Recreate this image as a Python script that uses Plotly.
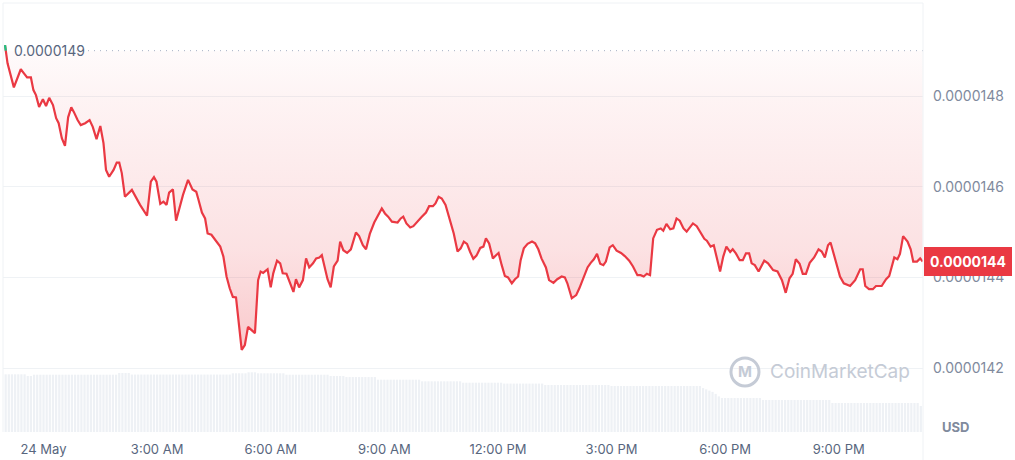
import pandas as pd
import plotly.graph_objects as go

# ---------------- data ----------------
open_price = 1.4900e-05
last_price_label = "0.0000144"

# minutes relative to 24 May 00:00
price_minutes = [
    -61, -57, -47, -36, -31, -26, -20, -16, -12, -7, -1, 4, 9, 15, 20, 24, 29, 34, 39, 44,
    48, 54, 59, 66, 73, 78, 84, 90, 95, 99, 104, 111, 116, 120, 124, 129, 140, 153, 164, 170,
    175, 179, 185, 190, 195, 199, 205, 210, 221, 229, 236, 242, 245, 251, 256, 260, 266, 273, 280, 285,
    290, 295, 300, 305, 309, 314, 319, 324, 335, 340, 344, 348, 355, 360, 364, 370, 375, 379, 385, 391,
    396, 400, 405, 411, 416, 421, 427, 432, 437, 441, 444, 450, 455, 460, 466, 470, 475, 481, 487, 495,
    500, 506, 511, 517, 524, 529, 536, 541, 546, 552, 561, 566, 570, 575, 581, 586, 592, 599, 606, 611,
    617, 621, 626, 631, 637, 645, 650, 656, 661, 666, 671, 676, 681, 686, 692, 697, 701, 706, 712, 717,
    721, 726, 731, 736, 742, 747, 752, 756, 761, 767, 774, 779, 784, 789, 796, 801, 808, 814, 821, 826,
    830, 837, 844, 849, 855, 862, 867, 872, 877, 882, 887, 891, 897, 902, 908, 915, 921, 928, 934, 941,
    946, 951, 956, 961, 966, 972, 978, 982, 987, 993, 998, 1003, 1008, 1014, 1019, 1029, 1035, 1041, 1047, 1051,
    1057, 1062, 1068, 1072, 1077, 1082, 1088, 1092, 1097, 1103, 1108, 1113, 1118, 1122, 1127, 1133, 1142, 1148, 1156, 1163,
    1170, 1176, 1182, 1187, 1192, 1198, 1203, 1208, 1214, 1221, 1228, 1233, 1238, 1243, 1247, 1252, 1257, 1262, 1268, 1278,
    1286, 1294, 1298, 1302, 1308, 1314, 1319, 1328, 1335, 1340, 1348, 1353, 1357, 1362, 1369, 1374, 1378, 1384, 1389, 1393,
]

price_usd = [
    1.4912e-05, 1.4872e-05, 1.4819e-05, 1.4859e-05, 1.4850e-05, 1.4841e-05, 1.4841e-05, 1.4813e-05, 1.4802e-05, 1.4776e-05,
    1.4793e-05, 1.4778e-05, 1.4796e-05, 1.4780e-05, 1.4751e-05, 1.4740e-05, 1.4707e-05, 1.4690e-05, 1.4753e-05, 1.4775e-05,
    1.4765e-05, 1.4747e-05, 1.4736e-05, 1.4740e-05, 1.4747e-05, 1.4732e-05, 1.4705e-05, 1.4734e-05, 1.4696e-05, 1.4637e-05,
    1.4622e-05, 1.4637e-05, 1.4653e-05, 1.4653e-05, 1.4630e-05, 1.4578e-05, 1.4593e-05, 1.4560e-05, 1.4536e-05, 1.4611e-05,
    1.4621e-05, 1.4611e-05, 1.4562e-05, 1.4567e-05, 1.4560e-05, 1.4587e-05, 1.4594e-05, 1.4525e-05, 1.4582e-05, 1.4615e-05,
    1.4594e-05, 1.4589e-05, 1.4574e-05, 1.4543e-05, 1.4530e-05, 1.4497e-05, 1.4494e-05, 1.4482e-05, 1.4468e-05, 1.4446e-05,
    1.4402e-05, 1.4376e-05, 1.4357e-05, 1.4356e-05, 1.4306e-05, 1.4240e-05, 1.4251e-05, 1.4291e-05, 1.4277e-05, 1.4394e-05,
    1.4413e-05, 1.4410e-05, 1.4418e-05, 1.4378e-05, 1.4409e-05, 1.4437e-05, 1.4431e-05, 1.4409e-05, 1.4408e-05, 1.4387e-05,
    1.4368e-05, 1.4396e-05, 1.4378e-05, 1.4394e-05, 1.4442e-05, 1.4422e-05, 1.4431e-05, 1.4442e-05, 1.4444e-05, 1.4449e-05,
    1.4431e-05, 1.4396e-05, 1.4378e-05, 1.4424e-05, 1.4437e-05, 1.4479e-05, 1.4460e-05, 1.4454e-05, 1.4462e-05, 1.4499e-05,
    1.4491e-05, 1.4471e-05, 1.4462e-05, 1.4496e-05, 1.4521e-05, 1.4534e-05, 1.4552e-05, 1.4541e-05, 1.4534e-05, 1.4523e-05,
    1.4521e-05, 1.4530e-05, 1.4534e-05, 1.4519e-05, 1.4510e-05, 1.4513e-05, 1.4523e-05, 1.4533e-05, 1.4543e-05, 1.4557e-05,
    1.4557e-05, 1.4563e-05, 1.4578e-05, 1.4574e-05, 1.4560e-05, 1.4523e-05, 1.4497e-05, 1.4457e-05, 1.4464e-05, 1.4479e-05,
    1.4474e-05, 1.4456e-05, 1.4441e-05, 1.4448e-05, 1.4465e-05, 1.4468e-05, 1.4486e-05, 1.4475e-05, 1.4442e-05, 1.4449e-05,
    1.4454e-05, 1.4427e-05, 1.4403e-05, 1.4400e-05, 1.4387e-05, 1.4396e-05, 1.4402e-05, 1.4438e-05, 1.4464e-05, 1.4474e-05,
    1.4479e-05, 1.4475e-05, 1.4462e-05, 1.4442e-05, 1.4422e-05, 1.4394e-05, 1.4388e-05, 1.4396e-05, 1.4402e-05, 1.4400e-05,
    1.4387e-05, 1.4354e-05, 1.4361e-05, 1.4376e-05, 1.4396e-05, 1.4422e-05, 1.4432e-05, 1.4440e-05, 1.4452e-05, 1.4430e-05,
    1.4427e-05, 1.4435e-05, 1.4466e-05, 1.4471e-05, 1.4459e-05, 1.4454e-05, 1.4447e-05, 1.4437e-05, 1.4424e-05, 1.4405e-05,
    1.4405e-05, 1.4402e-05, 1.4408e-05, 1.4405e-05, 1.4486e-05, 1.4505e-05, 1.4508e-05, 1.4503e-05, 1.4518e-05, 1.4506e-05,
    1.4508e-05, 1.4530e-05, 1.4525e-05, 1.4508e-05, 1.4501e-05, 1.4519e-05, 1.4513e-05, 1.4498e-05, 1.4485e-05, 1.4481e-05,
    1.4468e-05, 1.4471e-05, 1.4438e-05, 1.4413e-05, 1.4446e-05, 1.4468e-05, 1.4456e-05, 1.4462e-05, 1.4453e-05, 1.4438e-05,
    1.4438e-05, 1.4453e-05, 1.4453e-05, 1.4431e-05, 1.4427e-05, 1.4413e-05, 1.4437e-05, 1.4431e-05, 1.4416e-05, 1.4413e-05,
    1.4394e-05, 1.4366e-05, 1.4398e-05, 1.4408e-05, 1.4440e-05, 1.4430e-05, 1.4408e-05, 1.4408e-05, 1.4432e-05, 1.4444e-05,
    1.4462e-05, 1.4457e-05, 1.4444e-05, 1.4471e-05, 1.4477e-05, 1.4452e-05, 1.4424e-05, 1.4402e-05, 1.4387e-05, 1.4381e-05,
    1.4394e-05, 1.4418e-05, 1.4418e-05, 1.4381e-05, 1.4374e-05, 1.4374e-05, 1.4381e-05, 1.4381e-05, 1.4396e-05, 1.4403e-05,
    1.4444e-05, 1.4440e-05, 1.4452e-05, 1.4491e-05, 1.4479e-05, 1.4462e-05, 1.4435e-05, 1.4435e-05, 1.4442e-05, 1.4435e-05,
]

# 5-minute volume bars (million USD), starting 23 May 23:00
volume_start = "2024-05-23 23:00"
volume_musd = [
    2300, 2300, 2300, 2300, 2300, 2300, 2300,
    2232, 2232,
    2284, 2284, 2284, 2284, 2284, 2284, 2284, 2284, 2284, 2284, 2284, 2284, 2284, 2284,
    2284, 2284, 2284, 2284, 2284, 2284, 2284, 2284, 2284, 2284, 2284, 2284, 2284,
    2352, 2352, 2352, 2352,
    2290, 2290, 2290, 2290, 2290, 2290, 2290, 2290, 2290, 2290, 2290, 2290, 2290, 2290, 2290, 2290,
    2290, 2290, 2290, 2290, 2290, 2290, 2290, 2290, 2290, 2290, 2290, 2290, 2290, 2290, 2290, 2290,
    2340, 2340, 2340, 2340, 2340,
    2380, 2380, 2380,
    2340, 2340, 2340, 2340, 2340, 2340, 2340, 2340, 2340,
    2284, 2284, 2284, 2284, 2284, 2284, 2284, 2284, 2284, 2284, 2284, 2284, 2284, 2284,
    2232, 2232, 2232, 2232, 2232,
    2190, 2190, 2190, 2190, 2190, 2190, 2190, 2190, 2190, 2190,
    2085, 2085, 2085, 2085, 2085, 2085, 2085, 2085, 2085, 2085, 2085, 2085, 2085, 2085,
    2020, 2020, 2020, 2020, 2020, 2020, 2020, 2020, 2020, 2020, 2020, 2020, 2020,
    1965, 1965, 1965, 1965, 1965, 1965, 1965, 1965, 1965, 1965, 1965, 1965, 1965,
    1930, 1930, 1930, 1930, 1930, 1930, 1930, 1930, 1930, 1930, 1930, 1930, 1930,
    1873, 1873, 1873, 1873, 1873, 1873, 1873, 1873, 1873, 1873, 1873,
    1873, 1873, 1873, 1873, 1873, 1873, 1873, 1873, 1873, 1873,
    1834, 1834, 1834, 1834, 1834, 1834, 1834, 1834, 1834, 1834, 1834, 1834, 1834, 1834, 1834,
    1834, 1834, 1834, 1834, 1834, 1834, 1834, 1834, 1834, 1834, 1834, 1834, 1834, 1834,
    1750, 1700, 1650, 1600, 1520, 1420,
    1355, 1355, 1355, 1355, 1355, 1355, 1355, 1355, 1355, 1355, 1355, 1355, 1355,
    1276, 1276, 1276, 1276, 1276, 1276, 1276, 1276, 1276, 1276, 1276,
    1276, 1276, 1276, 1276, 1276, 1276, 1276, 1276, 1276, 1276, 1276,
    1156, 1156, 1156, 1156, 1156, 1156, 1156, 1156, 1156, 1156, 1156, 1156, 1156, 1156,
    1156, 1156, 1156, 1156, 1156, 1156, 1156, 1156, 1156, 1156, 1156, 1156, 1156, 1156,
    1036,
]

x_tick_times = ["2024-05-24 00:00", "2024-05-24 03:00", "2024-05-24 06:00", "2024-05-24 09:00",
                "2024-05-24 12:00", "2024-05-24 15:00", "2024-05-24 18:00", "2024-05-24 21:00"]
x_tick_labels = ["24 May", "3:00 AM", "6:00 AM", "9:00 AM", "12:00 PM", "3:00 PM", "6:00 PM", "9:00 PM"]
y_tick_values = [1.42e-05, 1.44e-05, 1.46e-05, 1.48e-05]
y_tick_labels = ["0.0000142", "0.0000144", "0.0000146", "0.0000148"]

# ---------------- build ----------------
RED = "#ea3943"
GREEN = "#16c784"
FONT = "Inter, Roboto, 'Noto Sans', sans-serif"

base = pd.Timestamp("2024-05-24 00:00")
price_times = base + pd.to_timedelta(price_minutes, unit="min")
volume_times = pd.date_range(volume_start, periods=len(volume_musd), freq="5min")

# portion of the first segment that is above the open price (drawn green)
p0, p1 = price_usd[0], price_usd[1]
frac = (p0 - open_price) / (p0 - p1)
t_cross = price_times[0] + (price_times[1] - price_times[0]) * frac

fig = go.Figure()

fig.add_trace(go.Bar(
    x=volume_times, y=volume_musd, yaxis="y2",
    marker=dict(color="#eef1f5", line=dict(width=0)),
    hoverinfo="skip", showlegend=False,
))

fig.add_trace(go.Scatter(
    x=[price_times[0], price_times[-1]], y=[open_price, open_price],
    mode="lines", line=dict(width=0, color="rgba(0,0,0,0)"),
    hoverinfo="skip", showlegend=False,
))

low = min(price_usd)
fig.add_trace(go.Scatter(
    x=price_times, y=price_usd, mode="lines",
    line=dict(color=RED, width=2.2),
    fill="tonexty",
    fillgradient=dict(
        type="vertical",
        start=low, stop=open_price,
        colorscale=[[0.0, "rgba(234,57,67,0.27)"],
                    [0.33, "rgba(234,57,67,0.15)"],
                    [0.83, "rgba(234,57,67,0.06)"],
                    [1.0, "rgba(234,57,67,0.02)"]],
    ),
    showlegend=False,
))

fig.add_trace(go.Scatter(
    x=[price_times[0], t_cross], y=[p0, open_price], mode="lines",
    line=dict(color=GREEN, width=2.2), hoverinfo="skip", showlegend=False,
))

fig.update_layout(
    width=1015, height=460,
    margin=dict(l=3, r=92, t=3, b=28),
    paper_bgcolor="white", plot_bgcolor="white",
    font=dict(family=FONT, size=13, color="#58667e"),
    bargap=0.3,
    showlegend=False,
    xaxis=dict(
        type="date",
        range=["2024-05-23 22:55:48", "2024-05-24 23:13:30"],
        tickvals=x_tick_times, ticktext=x_tick_labels,
        showgrid=False, zeroline=False, showline=False, ticks="",
        tickfont=dict(size=13, color="#58667e"),
        ticklabelstandoff=8,
    ),
    yaxis=dict(
        side="right",
        range=[1.40591e-05, 1.50051e-05],
        tickvals=y_tick_values, ticktext=y_tick_labels,
        showgrid=True, gridcolor="#eff2f5", gridwidth=1,
        zeroline=False, showline=False, ticks="",
        tickfont=dict(size=14, color="#808a9d"),
        ticklabelstandoff=9,
    ),
    yaxis2=dict(overlaying="y", range=[0, 17100], visible=False),
)

LINE_GREY = "#eff2f5"
fig.add_shape(type="line", xref="paper", yref="y", x0=0.0924, x1=1,
              y0=open_price, y1=open_price,
              line=dict(color="#a6b0c3", width=1, dash="1px,5px"))
fig.add_shape(type="line", xref="paper", yref="paper", x0=0, x1=1, y0=1, y1=1,
              line=dict(color=LINE_GREY, width=1))
fig.add_shape(type="line", xref="paper", yref="paper", x0=0, x1=0, y0=0, y1=1,
              line=dict(color=LINE_GREY, width=1))
fig.add_shape(type="line", xref="paper", yref="paper", x0=1, x1=1, y0=-0.07, y1=1,
              line=dict(color=LINE_GREY, width=1))

# watermark
WM = "#c5cbd6"
fig.add_shape(type="circle", xref="paper", yref="paper",
              xsizemode="pixel", ysizemode="pixel",
              xanchor=0.8065, yanchor=0.14, x0=-14, x1=14, y0=-14, y1=14,
              line=dict(color=WM, width=3))
fig.add_annotation(xref="paper", yref="paper", x=0.8065, y=0.14,
                   text="<b>M</b>", showarrow=False,
                   font=dict(size=15, color=WM, family=FONT),
                   xanchor="center", yanchor="middle")
fig.add_annotation(xref="paper", yref="paper", x=0.8315, y=0.14,
                   text="CoinMarketCap", showarrow=False,
                   font=dict(size=19, color=WM, family=FONT),
                   xanchor="left", yanchor="middle")

# open price label
fig.add_annotation(xref="paper", yref="y", x=0.0098, y=open_price,
                   text="0.0000149", showarrow=False,
                   font=dict(size=14, color="#58667e", family=FONT),
                   xanchor="left", yanchor="middle")

# current price box
fig.add_annotation(xref="paper", yref="y", x=1, xshift=1, y=price_usd[-1],
                   text="<b>" + last_price_label + "</b>", showarrow=False,
                   font=dict(size=14, color="white", family=FONT),
                   bgcolor=RED, bordercolor=RED, borderpad=5,
                   xanchor="left", yanchor="middle")

# currency label
fig.add_annotation(xref="paper", yref="paper", x=1.0185, y=0.0117,
                   text="<b>USD</b>", showarrow=False,
                   font=dict(size=13, color="#808a9d", family=FONT),
                   xanchor="left", yanchor="middle")

fig.write_html("out.html", config={"displayModeBar": False},
               post_script="document.body.style.margin='0';document.body.style.overflow='hidden';")
